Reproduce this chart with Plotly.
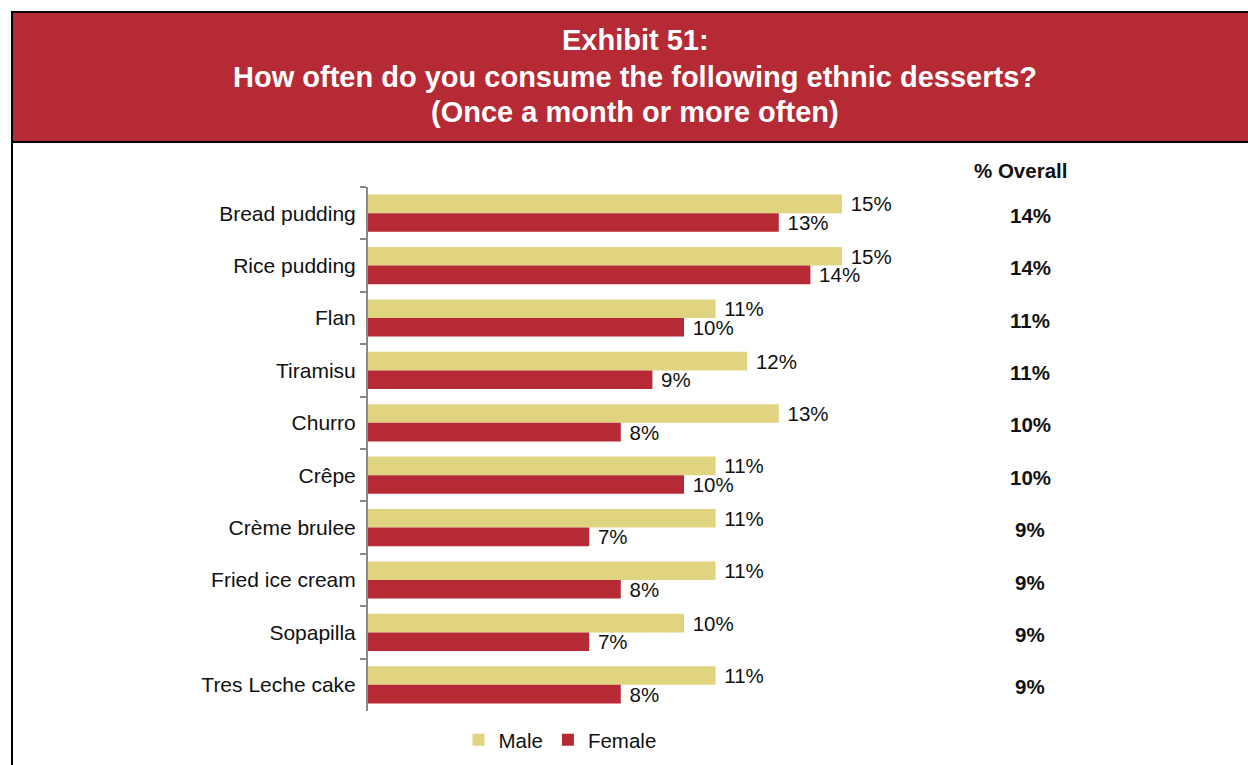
import plotly.graph_objects as go

# Survey data: share consuming each dessert once a month or more often
desserts = ["Bread pudding", "Rice pudding", "Flan", "Tiramisu", "Churro",
            "Crêpe", "Crème brulee", "Fried ice cream", "Sopapilla", "Tres Leche cake"]
male = [15, 15, 11, 12, 13, 11, 11, 11, 10, 11]
female = [13, 14, 10, 9, 8, 10, 7, 8, 7, 8]
overall = [14, 14, 11, 11, 10, 10, 9, 9, 9, 9]

W, H = 1248, 765
RED = "#B52A35"
GOLD = "#E1D480"
FONT = "Liberation Sans, Arial, sans-serif"

fig = go.Figure()
for name, vals, color in [("Male", male, GOLD), ("Female", female, RED)]:
    fig.add_trace(go.Bar(
        y=desserts, x=vals, name=name, orientation="h",
        marker=dict(color=color, line=dict(width=0)),
        text=[f" {v}%" for v in vals], textposition="outside",
        textfont=dict(size=20.5, color="#111", family=FONT),
        constraintext="none", cliponaxis=False,
    ))

x0_px, x1_px = 368, 1000
y0_px, y1_px = 187, 711

shapes = [
    # red header band
    dict(type="rect", xref="paper", yref="paper",
         x0=12 / W, x1=1.02, y0=1 - 142 / H, y1=1 - 12 / H,
         fillcolor=RED, line=dict(color="black", width=2), layer="below"),
    # left frame edge
    dict(type="line", xref="paper", yref="paper",
         x0=12 / W, x1=12 / W, y0=-0.01, y1=1 - 12 / H,
         line=dict(color="black", width=2)),
]

annotations = []
for txt, ypx in [("Exhibit 51:", 40),
                 ("How often do you consume the following ethnic desserts?", 77),
                 ("(Once a month or more often)", 112)]:
    annotations.append(dict(
        text=f"<b>{txt}</b>", xref="paper", yref="paper",
        x=635 / W, y=1 - ypx / H, xanchor="center", yanchor="middle",
        showarrow=False, font=dict(size=29, color="white", family=FONT)))

annotations.append(dict(
    text="<b>% Overall</b>", xref="paper", yref="paper",
    x=1020 / W, y=1 - 170 / H, xanchor="center", yanchor="middle",
    showarrow=False, font=dict(size=20.5, color="#111", family=FONT)))

for d, v in zip(desserts, overall):
    annotations.append(dict(
        text=f"<b>{v}%</b>", xref="paper", yref="y",
        x=1030 / W, y=d, xanchor="center", yanchor="middle", yshift=-2,
        showarrow=False, font=dict(size=20.5, color="#111", family=FONT)))

fig.update_layout(
    width=W, height=H,
    margin=dict(l=0, r=0, t=0, b=0),
    paper_bgcolor="white", plot_bgcolor="rgba(0,0,0,0)",
    barmode="group", bargap=0.29, bargroupgap=0,
    font=dict(family=FONT, size=20, color="#111"),
    xaxis=dict(domain=[x0_px / W, x1_px / W], range=[0, 20],
               showgrid=False, zeroline=False, showticklabels=False,
               showline=False, ticks=""),
    yaxis=dict(domain=[1 - y1_px / H, 1 - y0_px / H], autorange="reversed",
               showgrid=False, zeroline=False,
               showline=True, linecolor="#888", linewidth=2,
               ticks="outside", tickson="boundaries", ticklen=6,
               tickcolor="#888", tickwidth=2, ticklabelstandoff=6,
               tickfont=dict(size=21, color="#111", family=FONT)),
    legend=dict(orientation="h", x=560 / W, y=1 - 740 / H,
                xanchor="center", yanchor="middle",
                font=dict(size=20.5, color="#111", family=FONT),
                itemwidth=30, tracegroupgap=0, bgcolor="rgba(0,0,0,0)"),
    shapes=shapes,
    annotations=annotations,
)

fig.write_html("out.html")
